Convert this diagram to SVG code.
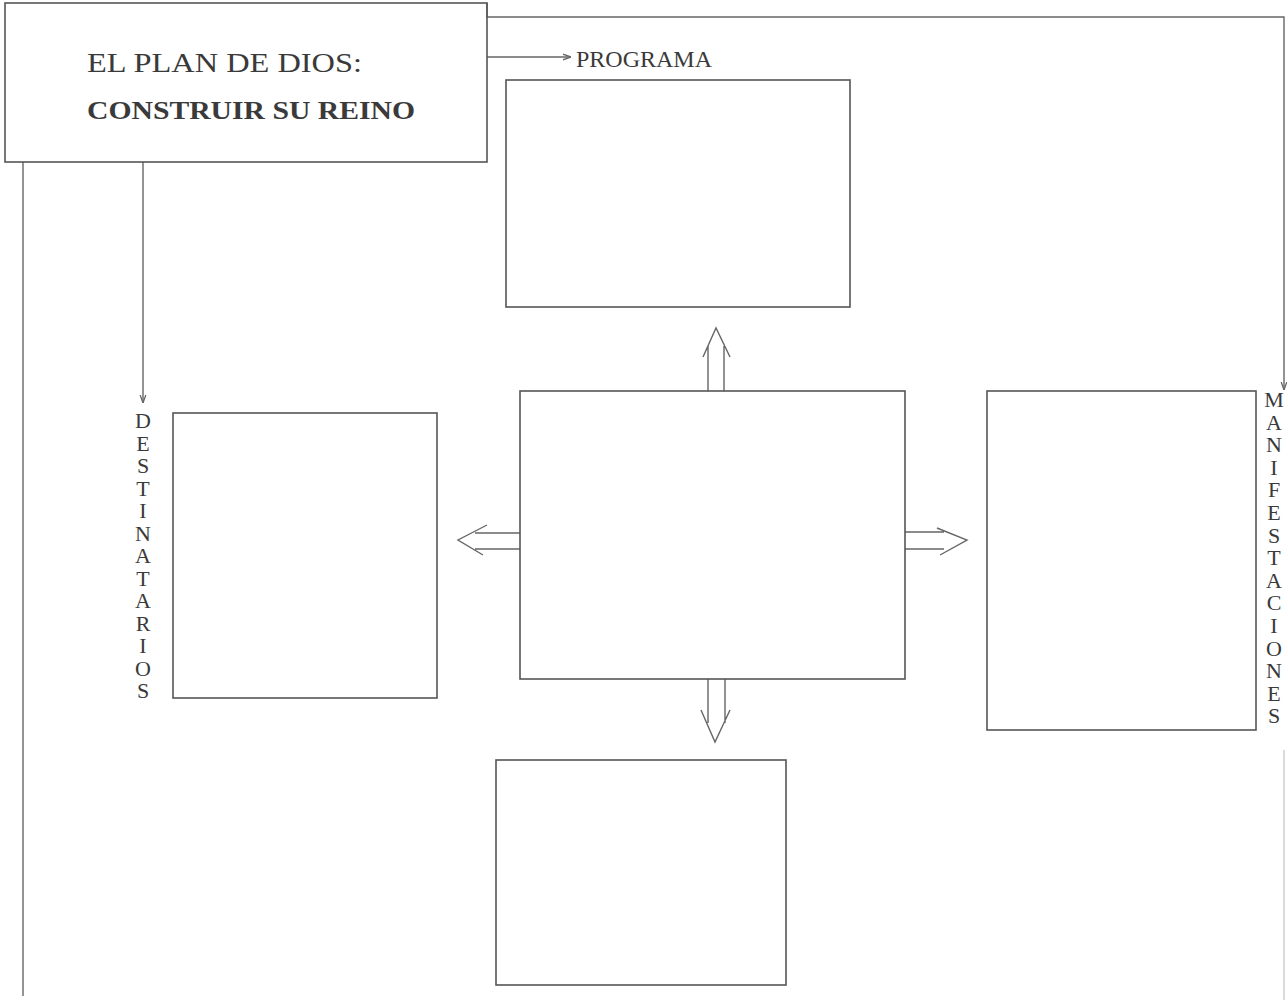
<svg xmlns="http://www.w3.org/2000/svg" width="1287" height="1003" viewBox="0 0 1287 1003">
<style>
.box{fill:none;stroke:#555;stroke-width:1.6}
.ln{fill:none;stroke:#666;stroke-width:1.4}
.dbl{fill:none;stroke:#666;stroke-width:1.4;stroke-linejoin:miter}
.t{font-family:"Liberation Serif","Times New Roman",serif;fill:#3a3a3a}
.v{font-family:"Liberation Serif","Times New Roman",serif;fill:#3a3a3a;font-size:22px;text-anchor:middle}
</style>
<defs>
<marker id="ah" viewBox="0 0 10 10" refX="10" refY="5" markerWidth="8" markerHeight="8" markerUnits="userSpaceOnUse" orient="auto">
<path d="M0,1.5 L10,5 L0,8.5" fill="none" stroke="#666" stroke-width="1.6"/>
</marker>
</defs>
<rect width="1287" height="1003" fill="#fff"/>
<g id="connectors">
<path class="ln" d="M487,3 L487,17 L1284,17 L1284,390" marker-end="url(#ah)"/>
<line class="ln" x1="1284" y1="750" x2="1284" y2="1000" stroke-opacity="0.35"/>
<line class="ln" x1="487" y1="57" x2="571" y2="57" marker-end="url(#ah)"/>
<line class="ln" x1="143" y1="162" x2="143" y2="403" marker-end="url(#ah)"/>
<line class="ln" x1="23" y1="162" x2="23" y2="996"/>
<path class="dbl" d="M708,391 L708,346 M724,391 L724,346 M703,357 L716,328 L730,357"/>
<path class="dbl" d="M708,679 L708,723 M725,679 L725,723 M701,710 L715,742 L730,710"/>
<path class="dbl" d="M520,533 L475,533 M520,549 L475,549 M487,525 L458,540 L483,555"/>
<path class="dbl" d="M905,532 L944,532 M905,549 L944,549 M937,528 L967,540 L940,555"/>
</g>
<g id="title">
<rect class="box" x="5" y="3" width="482" height="159"/>
<text class="t" x="87" y="72" font-size="27" textLength="275" lengthAdjust="spacingAndGlyphs">EL PLAN DE DIOS:</text>
<text class="t" x="87" y="119" font-size="25" font-weight="bold" textLength="328" lengthAdjust="spacingAndGlyphs">CONSTRUIR SU REINO</text>
</g>
<g id="programa-label">
<text class="t" x="576" y="67" font-size="24" textLength="136" lengthAdjust="spacingAndGlyphs">PROGRAMA</text>
</g>
<g id="programa-box"><rect class="box" x="506" y="80" width="344" height="227"/></g>
<g id="center-box"><rect class="box" x="520" y="391" width="385" height="288"/></g>
<g id="destinatarios-box"><rect class="box" x="173" y="413" width="264" height="285"/></g>
<g id="bottom-box"><rect class="box" x="496" y="760" width="290" height="225"/></g>
<g id="manifestaciones-box"><rect class="box" x="987" y="391" width="269" height="339"/></g>
<g id="destinatarios-label">
<text class="v" x="143" y="428">D</text>
<text class="v" x="143" y="450.5">E</text>
<text class="v" x="143" y="473">S</text>
<text class="v" x="143" y="495.5">T</text>
<text class="v" x="143" y="518">I</text>
<text class="v" x="143" y="540.5">N</text>
<text class="v" x="143" y="563">A</text>
<text class="v" x="143" y="585.5">T</text>
<text class="v" x="143" y="608">A</text>
<text class="v" x="143" y="630.5">R</text>
<text class="v" x="143" y="653">I</text>
<text class="v" x="143" y="675.5">O</text>
<text class="v" x="143" y="698">S</text>
</g>
<g id="manifestaciones-label">
<text class="v" x="1274" y="407">M</text>
<text class="v" x="1274" y="429.6">A</text>
<text class="v" x="1274" y="452.2">N</text>
<text class="v" x="1274" y="474.8">I</text>
<text class="v" x="1274" y="497.4">F</text>
<text class="v" x="1274" y="520">E</text>
<text class="v" x="1274" y="542.6">S</text>
<text class="v" x="1274" y="565.2">T</text>
<text class="v" x="1274" y="587.8">A</text>
<text class="v" x="1274" y="610.4">C</text>
<text class="v" x="1274" y="633">I</text>
<text class="v" x="1274" y="655.6">O</text>
<text class="v" x="1274" y="678.2">N</text>
<text class="v" x="1274" y="700.8">E</text>
<text class="v" x="1274" y="723.4">S</text>
</g>
</svg>
